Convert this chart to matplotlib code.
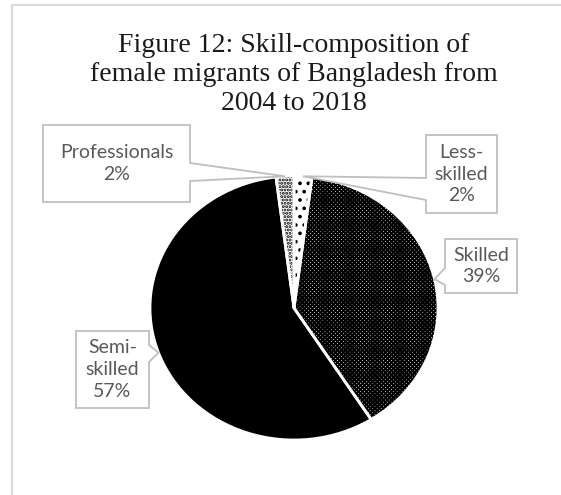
import numpy as np
import matplotlib
matplotlib.use("Agg")
import matplotlib.pyplot as plt
from matplotlib.patches import Polygon

# data
categories = ["Less-skilled", "Skilled", "Semi-skilled", "Professionals"]
label_text = ["Less-\nskilled", "Skilled", "Semi-\nskilled", "Professionals"]
shares = [2, 39, 57, 2]
title = "Figure 12: Skill-composition of\nfemale migrants of Bangladesh from\n2004 to 2018"

# styles
hatches = ["..", "x" * 8, "", "." * 5]
faces = ["white", "white", "black", "white"]

W, H = 561, 495
fig = plt.figure(figsize=(W / 100, H / 100), dpi=100)
plt.rcParams["hatch.linewidth"] = 1.45

# pie geometry in pixels (picture is squashed a little vertically)
cx, cy, rx, ry = 294, 308, 144, 132

pie_ax = fig.add_axes([(cx - rx) / W, 1 - (cy + ry) / H, 2 * rx / W, 2 * ry / H])
wedges, _ = pie_ax.pie(shares, startangle=90, counterclock=False, radius=1,
                       colors=faces, wedgeprops=dict(linewidth=0, edgecolor="black"))
for w, h in zip(wedges, hatches):
    w.set_hatch(h)
# white borders between slices
pie_ax.pie(shares, startangle=90, counterclock=False, radius=1,
           wedgeprops=dict(facecolor="none", edgecolor="white", linewidth=2.0))
pie_ax.set_aspect("auto")
pie_ax.set_xlim(-1, 1)
pie_ax.set_ylim(-1, 1)
pie_ax.axis("off")

# overlay in pixel coordinates
ov = fig.add_axes([0, 0, 1, 1], facecolor="none")
ov.set_xlim(0, W)
ov.set_ylim(H, 0)
ov.axis("off")

# chart frame
ov.plot([12, 12, W + 5], [H + 5, 5, 5], color="#D9D9D9", lw=1.6, solid_capstyle="butt")

ov.text(294, 33, title, ha="center", va="top", fontsize=20,
        family="Liberation Serif", color="#1a1a1a", linespacing=1.2)

# callout boxes: x0, y0, x1, y1, side of notch, notch y range
boxes = {
    "Less-skilled": (426, 135, 497, 213, "left", 178, 200),
    "Skilled": (445, 239, 517, 293, "left", 268, 285),
    "Semi-skilled": (76, 331, 149, 408, "right", 345, 362),
    "Professionals": (43, 125, 190, 202, "right", 163, 181),
}

for w, cat, lab, val in zip(wedges, categories, label_text, shares):
    mid = np.deg2rad((w.theta1 + w.theta2) / 2)
    tx = cx + rx * np.cos(mid)
    ty = cy - ry * np.sin(mid)
    x0, y0, x1, y1, side, ya, yb = boxes[cat]
    if side == "right":
        pts = [(x0, y0), (x1, y0), (x1, ya), (tx, ty), (x1, yb), (x1, y1), (x0, y1)]
    else:
        pts = [(x0, y0), (x1, y0), (x1, y1), (x0, y1), (x0, yb), (tx, ty), (x0, ya)]
    ov.add_patch(Polygon(pts, closed=True, facecolor="white", edgecolor="#BFBFBF", lw=1.3))
    ov.text((x0 + x1) / 2, (y0 + y1) / 2, f"{lab}\n{val}%", ha="center", va="center",
            fontsize=14, family="Lato", color="#595959", linespacing=1.35)

fig.savefig("out.png", dpi=100)
